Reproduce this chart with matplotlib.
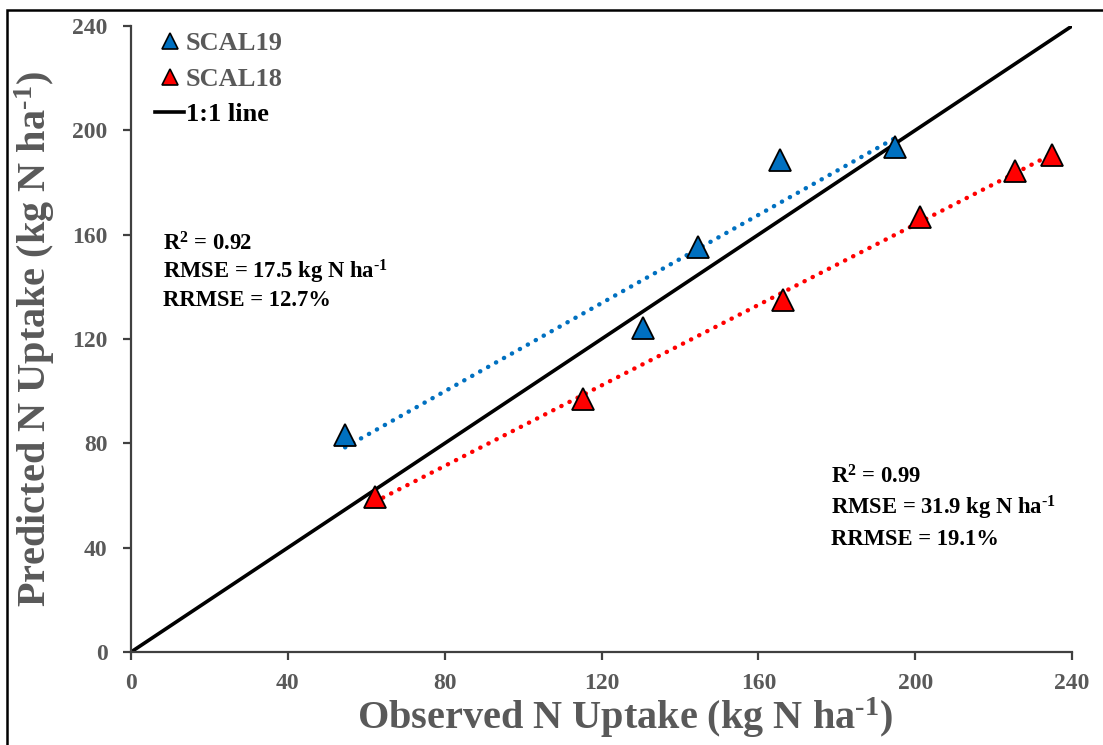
import numpy as np
import matplotlib
matplotlib.use("Agg")
import matplotlib.pyplot as plt
from matplotlib.patches import Rectangle
from matplotlib.lines import Line2D

plt.rcParams['font.family'] = ['Liberation Serif', 'DejaVu Serif']
plt.rcParams['font.weight'] = 'bold'
plt.rcParams['mathtext.fontset'] = 'custom'
plt.rcParams['mathtext.rm'] = 'Liberation Serif:bold'
plt.rcParams['mathtext.bf'] = 'Liberation Serif:bold'
plt.rcParams['mathtext.default'] = 'bf'

# observed vs predicted N uptake (kg N/ha)
scal19_obs = [54.6, 130.6, 144.6, 165.5, 194.9]
scal19_pred = [83.2, 124.3, 155.3, 188.6, 193.6]
scal18_obs = [62.2, 115.3, 166.3, 201.2, 225.5, 234.9]
scal18_pred = [59.4, 97.0, 135.0, 166.9, 184.6, 190.5]
ticks = [0, 40, 80, 120, 160, 200, 240]
sup = r"$^{\text{-}1}$"
stats19 = ["R$^{2}$ = 0.92", "RMSE = 17.5 kg N ha" + sup, "RRMSE = 12.7%"]
stats18 = ["R$^{2}$ = 0.99", "RMSE = 31.9 kg N ha" + sup, "RRMSE = 19.1%"]

blue = '#0070C0'
red = '#FF0000'
grey = '#595959'
axcol = '#404040'

fig = plt.figure(figsize=(11.03, 7.45), dpi=100)
ax = fig.add_axes([0.1188, 0.1248, 0.8531, 0.8403])

# 1:1 line
ax.plot([0, 240], [0, 240], color='black', lw=2.6, zorder=2)

# trend lines
for xs, ys, c in [(scal19_obs, scal19_pred, blue), (scal18_obs, scal18_pred, red)]:
    k, b = np.polyfit(xs, ys, 1)
    xx = np.array([min(xs), max(xs)])
    ax.plot(xx, k * xx + b, color=c, lw=3.2, linestyle=(0, (0.05, 2.0)),
            dash_capstyle='round', zorder=3)

ax.plot(scal19_obs, scal19_pred, linestyle='none', marker='^', ms=16,
        mfc=blue, mec='black', mew=1.3, zorder=4)
ax.plot(scal18_obs, scal18_pred, linestyle='none', marker='^', ms=16,
        mfc=red, mec='black', mew=1.3, zorder=4)

ax.set_xlim(0, 240)
ax.set_ylim(0, 240)
ax.set_xticks(ticks)
ax.set_yticks(ticks)
ax.spines['top'].set_visible(False)
ax.spines['right'].set_visible(False)
for s in ['left', 'bottom']:
    ax.spines[s].set_color(axcol)
    ax.spines[s].set_linewidth(1.6)
ax.tick_params(direction='out', length=6, width=1.6, color=axcol,
               labelcolor=grey, labelsize=17)
ax.tick_params(axis='x', pad=9)
ax.tick_params(axis='y', pad=11)
for lab in ax.get_xticklabels() + ax.get_yticklabels():
    lab.set_fontweight('bold')

ax.set_xlabel("Observed N Uptake (kg N ha" + sup + ")", fontsize=29, color=grey,
              fontweight='bold', labelpad=1)
ax.xaxis.label.set_x(0.525)
ax.set_ylabel("Predicted N Uptake (kg N ha" + sup + ")", fontsize=29, color=grey,
              fontweight='bold', labelpad=11)

# stats text
for i, t in enumerate(stats19):
    ax.text(8.2, 156.5 - i * 10.9, t, fontsize=16.3, color='black',
            fontweight='bold', va='center', ha='left')
for i, t in enumerate(stats18):
    ax.text(178.5, 67.2 - i * 12.1, t, fontsize=16.3, color='black',
            fontweight='bold', va='center', ha='left')

handles = [
    Line2D([], [], linestyle='none', marker='^', ms=11, mfc=blue, mec='black', mew=1.2),
    Line2D([], [], linestyle='none', marker='^', ms=11, mfc=red, mec='black', mew=1.2),
    Line2D([], [], color='black', lw=2.6),
]
leg = ax.legend(handles, ["SCAL19", "SCAL18", "1:1 line"], loc='upper left',
                bbox_to_anchor=(0.006, 1.02), frameon=False, fontsize=19,
                handlelength=1.1, handletextpad=0.05, labelspacing=0.45,
                borderaxespad=0.3)
cols = [grey, grey, 'black']
for t, c in zip(leg.get_texts(), cols):
    t.set_color(c)
    t.set_fontweight('bold')

# outer frame of the figure
fig.patches.append(Rectangle((0.0063, -0.2), 2.0, 0.9866 + 0.2,
                             transform=fig.transFigure, fill=False,
                             lw=1.8, edgecolor='black'))

fig.savefig("out.png", dpi=100)
